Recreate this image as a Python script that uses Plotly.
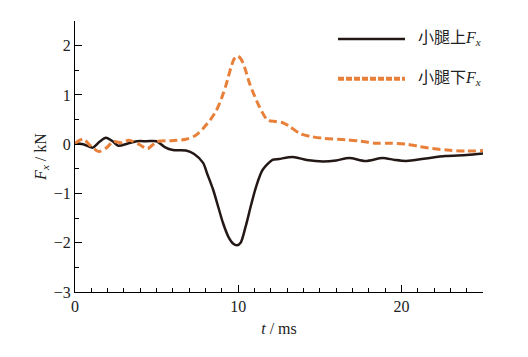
import plotly.graph_objects as go

# ---- data ----
t_upper = [0, 0.5, 1.08, 1.5, 1.9, 2.3, 2.65, 3.2, 3.8, 4.4, 5.0, 5.5, 6.0, 6.8, 7.3,
           7.85, 8.1, 8.46, 8.8, 9.07, 9.4, 9.7, 9.93, 10.15, 10.45, 10.8, 11.1, 11.5,
           12.1, 12.5, 13.35, 14.2, 15.2, 16.0, 16.8, 17.8, 18.85, 19.6, 20.3, 21.5,
           22.7, 24.0, 25.0]
f_upper = [0.02, 0.0, -0.07, 0.05, 0.13, 0.06, -0.03, 0.01, 0.06, 0.06, 0.06, -0.06,
           -0.12, -0.13, -0.2, -0.38, -0.6, -0.92, -1.3, -1.6, -1.88, -2.02, -2.05,
           -2.0, -1.68, -1.22, -0.86, -0.52, -0.32, -0.3, -0.26, -0.32, -0.35, -0.33,
           -0.28, -0.34, -0.28, -0.32, -0.34, -0.29, -0.24, -0.22, -0.19]

t_lower = [0, 0.5, 0.95, 1.45, 1.9, 2.35, 2.9, 3.3, 3.9, 4.45, 5.0, 5.8, 6.8, 7.4,
           7.85, 8.3, 8.67, 9.0, 9.28, 9.55, 9.75, 9.95, 10.15, 10.4, 10.7, 11.0, 11.3,
           11.8, 12.3, 12.7, 13.15, 13.76, 14.4, 15.2, 16.6, 17.5, 18.45, 19.3, 20.3,
           21.0, 21.7, 22.8, 23.95, 25.0]
f_lower = [0.02, 0.1, -0.03, -0.15, -0.08, 0.05, 0.03, 0.08, 0.0, -0.09, 0.05, 0.07,
           0.1, 0.18, 0.32, 0.5, 0.69, 0.95, 1.23, 1.55, 1.73, 1.79, 1.74, 1.55, 1.23,
           0.98, 0.76, 0.49, 0.46, 0.44, 0.36, 0.22, 0.16, 0.12, 0.09, 0.06, 0.02, 0.02,
           0.0, -0.04, -0.08, -0.12, -0.14, -0.13]

name_upper = "小腿上<i>F</i><sub><i>x</i></sub>"
name_lower = "小腿下<i>F</i><sub><i>x</i></sub>"

black = "#231815"
orange = "#E8803A"
font_main = "Liberation Serif, Times New Roman, Noto Sans CJK SC, serif"

fig = go.Figure()
fig.add_trace(go.Scatter(x=t_upper, y=f_upper, mode="lines", name=name_upper,
                         line=dict(color=black, width=2.5, shape="spline", smoothing=0.8),
                         showlegend=False))
fig.add_trace(go.Scatter(x=t_lower, y=f_lower, mode="lines", name=name_lower,
                         line=dict(color=orange, width=3, shape="spline", smoothing=0.8,
                                   dash="8px,4px"),
                         showlegend=False))

# manual legend (long line samples like the reference)
legend_rows = [(0.9336, black, "solid", 2.5, name_upper),
               (0.787, orange, "6px,2px", 4, name_lower)]
for yv, col, dash, w, txt in legend_rows:
    fig.add_shape(type="line", xref="paper", yref="paper", x0=0.6446, x1=0.8088,
                  y0=yv, y1=yv, line=dict(color=col, width=w, dash=dash))
    fig.add_annotation(xref="paper", yref="paper", x=0.835, y=yv, text=txt,
                       showarrow=False, xanchor="left", yanchor="middle",
                       font=dict(family=font_main, size=16, color="#222"))

axis_common = dict(showgrid=False, zeroline=False, showline=True, linecolor="black",
                   linewidth=1, ticks="inside", ticklen=7, tickwidth=1,
                   tickcolor="black", mirror=False, automargin=False,
                   tickfont=dict(family=font_main, size=16, color="#222"))

fig.update_xaxes(range=[0, 25], tickvals=[0, 10, 20],
                 minor=dict(dtick=1, ticks="inside", ticklen=4, tickcolor="black",
                            tickwidth=1),
                 title=dict(text="<i>t</i> / ms", standoff=8,
                            font=dict(family=font_main, size=16, color="#222")),
                 **axis_common)
fig.update_yaxes(range=[-3, 2.5], tickvals=[-3, -2, -1, 0, 1, 2],
                 minor=dict(dtick=0.5, ticks="inside", ticklen=4, tickcolor="black",
                            tickwidth=1),
                 title=dict(text="<i>F</i><sub><i>x</i></sub> / kN", standoff=3,
                            font=dict(family=font_main, size=16, color="#222")),
                 **axis_common)

# page body has an 8px margin, so the figure is sized/offset to compensate
fig.update_layout(width=520, height=349, margin=dict(l=67, r=45, t=13, b=65),
                  plot_bgcolor="white", paper_bgcolor="white",
                  font=dict(family=font_main))

fig.write_html("out.html")
